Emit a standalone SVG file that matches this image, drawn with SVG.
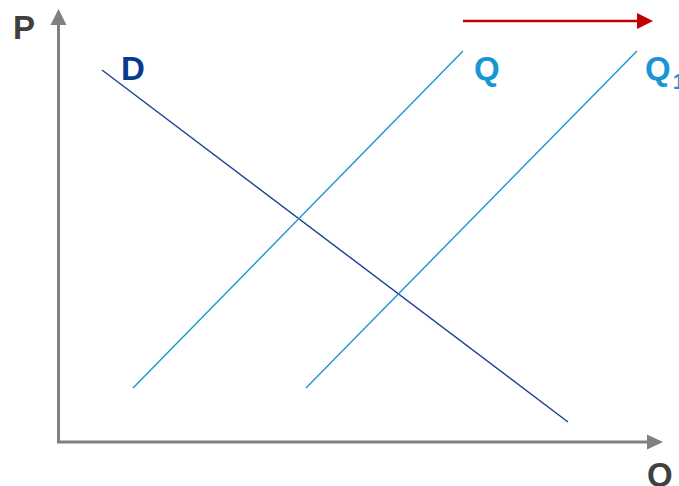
<svg xmlns="http://www.w3.org/2000/svg" width="679" height="486" viewBox="0 0 679 486">
<style>
.lbl{font-family:"Liberation Sans",Arial,sans-serif;font-weight:bold;font-size:33px}
.axis{stroke:#808080;stroke-width:3;fill:none}
.ah{fill:#808080}
</style>
<rect width="679" height="486" fill="#fff"/>
<g id="axes">
<line class="axis" x1="58.5" y1="443" x2="58.5" y2="24"/>
<polygon class="ah" points="50.5,25 58.5,9 66.5,25"/>
<line class="axis" x1="57" y1="442" x2="648" y2="442"/>
<polygon class="ah" points="647,434.5 663,442 647,449.5"/>
</g>
<g id="connectors">
<line id="D-line" x1="102" y1="70" x2="568" y2="422" stroke="#1B3F94" stroke-width="1.4"/>
<line id="Q-line" x1="133" y1="388" x2="463" y2="51" stroke="#1A95D3" stroke-width="1.4"/>
<line id="Q1-line" x1="306" y1="388" x2="637" y2="51" stroke="#1A95D3" stroke-width="1.4"/>
<line x1="463" y1="21" x2="638" y2="21" stroke="#C00000" stroke-width="2.5"/>
<polygon points="637,13 653,21 637,29" fill="#C00000"/>
</g>
<g id="labels">
<text class="lbl" x="13" y="39" fill="#404040">P</text>
<text class="lbl" x="121" y="80" fill="#073B8C">D</text>
<text class="lbl" x="474" y="80" fill="#1A95D3">Q</text>
<text class="lbl" x="645" y="80" fill="#1A95D3">Q<tspan font-size="22" dx="2" dy="9">1</tspan></text>
<text class="lbl" x="647" y="486" fill="#404040">Q</text>
</g>
</svg>
